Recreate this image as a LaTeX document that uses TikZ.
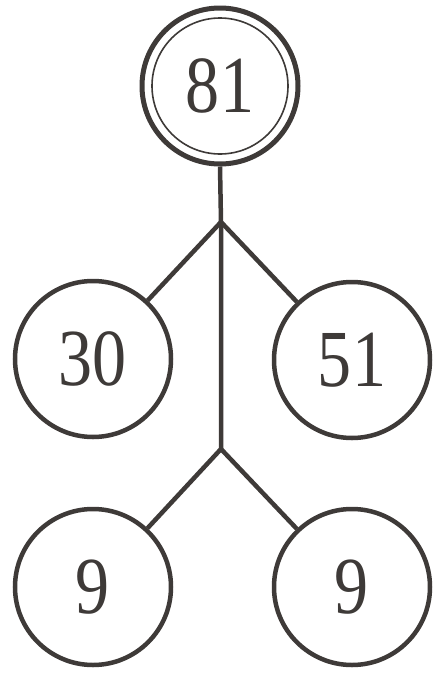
\documentclass[tikz,border=0pt]{standalone}
\usepackage{fontspec}
\setmainfont{Liberation Serif}
\newfontfamily\numfont[FakeStretch=0.84]{Liberation Serif}
\definecolor{ink}{HTML}{3E3A38}
\tikzset{
  num/.style={circle,draw=ink,line width=4.5pt,minimum size=156pt,inner sep=0pt,
    text=ink,font=\numfont\fontsize{81}{82}\selectfont},
  branch/.style={draw=ink,line width=4.5pt}
}

\begin{document}
\begin{tikzpicture}[x=1pt,y=-1pt]
   \useasboundingbox (0,0) rectangle (436,673);
   \node[num,line width=5pt] (n81) at (220,86) {81};
   \draw[ink,line width=1.6pt] (n81.center) circle (68pt);
   \node[num] (n30) at (93,359) {30};
   \node[num] (n51) at (352,360) {51};
   \node[num] (n9a) at (93,587) {9};
   \node[num] (n9b) at (352,587) {9};
   \coordinate (j1) at (221,222);
   \coordinate (j2) at (221,449);
   \draw[branch] (n81.south) -- (j1) -- (j2);
   \draw[branch] (n30) -- (j1) -- (n51);
   \draw[branch] (n9a) -- (j2) -- (n9b);
 \end{tikzpicture}
\end{document}
